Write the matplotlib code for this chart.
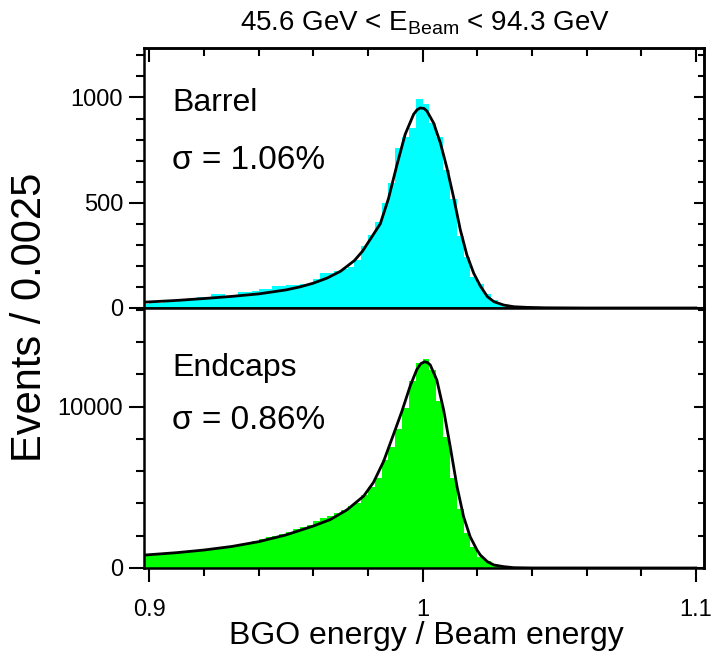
import numpy as np
import matplotlib.pyplot as plt
from matplotlib.ticker import MultipleLocator

plt.rcParams['font.family'] = ['Liberation Sans', 'DejaVu Sans']
plt.rcParams['mathtext.fontset'] = 'custom'
plt.rcParams['mathtext.rm'] = 'Liberation Sans'

# histogram bins: first edge and width (Events / 0.0025)
bin_start = 0.8975
bin_width = 0.0025

barrel_counts = [20, 22, 25, 27, 30, 33, 36, 45, 50, 52, 67,
                 67, 52, 55, 78, 78, 80, 89, 89, 105, 105,
                 108, 110, 112, 115, 138, 168, 165, 178, 185, 195,
                 228, 295, 348, 410, 500, 595, 762, 810, 856, 994,
                 967, 879, 813, 657, 518, 340, 243, 148, 114, 67,
                 38, 18, 9, 5, 3, 2, 2, 1, 1, 1,
                 1, 1, 1, 1, 0, 0, 0, 0, 0, 0,
                 0, 0, 0, 0, 0, 0, 0, 0, 0, 0]

endcap_counts = [860, 870, 890, 910, 940, 970, 1000, 1040, 1080, 1130, 1180,
                 1230, 1290, 1360, 1450, 1560, 1680, 1780, 1898, 1980, 2105,
                 2228, 2393, 2517, 2661, 2930, 3115, 3230, 3390, 3620, 3840,
                 4050, 4500, 5000, 5600, 6700, 7500, 8600, 9900, 11550, 12670,
                 12920, 12256, 10357, 8088, 5550, 3632, 2187, 1300, 700, 420,
                 230, 130, 75, 45, 30, 20, 12, 8, 5, 3,
                 2, 1, 1, 1, 1, 0, 0, 0, 0, 0,
                 0, 0, 0, 0, 0, 0, 0, 0, 0, 0]

# fitted curves
barrel_fit_x = [0.8985, 0.910, 0.920, 0.930, 0.940, 0.950, 0.955, 0.960, 0.965, 0.970,
                0.975, 0.978, 0.981, 0.9845, 0.9875, 0.9906, 0.9936, 0.9967, 0.998, 0.9991,
                1.0005, 1.0016, 1.004, 1.0065, 1.0089, 1.0114, 1.0138, 1.0162, 1.0187, 1.0211,
                1.0237, 1.0261, 1.0297, 1.0334, 1.0382, 1.045, 1.06, 1.1]
barrel_fit_y = [28, 36, 45, 55, 67, 86, 100, 118, 142, 175,
                225, 270, 330, 400, 520, 680, 825, 920, 942, 950,
                948, 935, 879, 784, 665, 522, 371, 252, 165, 105,
                54, 30, 14, 6, 3, 1, 0, 0]

endcap_fit_x = [0.8985, 0.910, 0.920, 0.930, 0.940, 0.950, 0.960, 0.9662, 0.9723, 0.9784,
                0.982, 0.9857, 0.9894, 0.9924, 0.9955, 0.9979, 0.9993, 1.0007, 1.0018, 1.0028,
                1.0052, 1.0077, 1.0101, 1.0126, 1.015, 1.0174, 1.0199, 1.0211, 1.0237, 1.0261,
                1.0297, 1.0334, 1.04, 1.1]
endcap_fit_y = [805, 950, 1114, 1330, 1630, 2050, 2600, 3000, 3600, 4450,
                5300, 6600, 8300, 9700, 11300, 12300, 12650, 12770, 12720, 12570,
                11640, 9780, 7510, 5030, 3175, 1937, 1114, 805, 392, 186,
                83, 20, 3, 0]

edges = bin_start + bin_width * np.arange(len(barrel_counts) + 1)

fig = plt.figure(figsize=(7.15, 6.68), dpi=100)
W, H = 715.0, 668.0
ax1 = fig.add_axes([144 / W, 1 - 308 / H, 560 / W, 260 / H])
ax2 = fig.add_axes([144 / W, 1 - 568 / H, 560 / W, 260 / H])

ax1.stairs(barrel_counts, edges, fill=True, color='#00ffff', lw=0)
ax1.plot(barrel_fit_x, barrel_fit_y, color='black', lw=2)
ax2.stairs(endcap_counts, edges, fill=True, color='#00ff00', lw=0)
ax2.plot(endcap_fit_x, endcap_fit_y, color='black', lw=2)


def style(ax, ymax, ymajor, yminor, labels_bottom):
    ax.set_xlim(0.898, 1.103)
    ax.set_ylim(0, ymax)
    for s in ax.spines.values():
        s.set_linewidth(1.8)
    ax.xaxis.set_major_locator(MultipleLocator(0.1))
    ax.xaxis.set_minor_locator(MultipleLocator(0.02))
    ax.yaxis.set_major_locator(MultipleLocator(ymajor))
    ax.yaxis.set_minor_locator(MultipleLocator(yminor))
    ax.tick_params(axis='x', which='both', direction='out', bottom=True, top=False,
                   labelbottom=labels_bottom, labelsize=17, pad=12, width=1.5)
    ax.tick_params(axis='x', which='major', length=10)
    ax.tick_params(axis='x', which='minor', length=5.5)
    ax.tick_params(axis='y', which='both', direction='out', left=True, right=False,
                   labelsize=17, pad=4, width=1.5)
    ax.tick_params(axis='y', which='major', length=11)
    ax.tick_params(axis='y', which='minor', length=6)
    ax.xaxis.set_major_formatter(plt.FuncFormatter(lambda v, p: '%g' % round(v, 3)))
    # inward ticks on the right
    sy = ax.secondary_yaxis('right')
    sy.yaxis.set_major_locator(MultipleLocator(ymajor))
    sy.yaxis.set_minor_locator(MultipleLocator(yminor))
    sy.tick_params(axis='y', which='both', direction='in', labelright=False, width=1.5)
    sy.tick_params(axis='y', which='major', length=7)
    sy.tick_params(axis='y', which='minor', length=4)
    sy.spines['right'].set_linewidth(1.8)


style(ax1, 1235, 500, 100, False)
style(ax2, 16100, 10000, 2000, True)

# inward ticks along the top of the upper panel
sx = ax1.secondary_xaxis('top')
sx.xaxis.set_major_locator(MultipleLocator(0.1))
sx.xaxis.set_minor_locator(MultipleLocator(0.02))
sx.tick_params(axis='x', which='both', direction='in', labeltop=False, width=1.5)
sx.tick_params(axis='x', which='major', length=10)
sx.tick_params(axis='x', which='minor', length=5.5)
sx.spines['top'].set_linewidth(1.8)

ax1.text(0.05, 0.79, 'Barrel', transform=ax1.transAxes, fontsize=23, va='center')
ax1.text(0.05, 0.567, 'σ = 1.06%', transform=ax1.transAxes, fontsize=24, va='center')
ax2.text(0.05, 0.77, 'Endcaps', transform=ax2.transAxes, fontsize=23, va='center')
ax2.text(0.05, 0.567, 'σ = 0.86%', transform=ax2.transAxes, fontsize=24, va='center')

fig.text(0.594, 0.965, r'45.6 GeV < E$_{\rm Beam}$ < 94.3 GeV', fontsize=20,
         ha='center', va='center')
fig.text(0.597, 0.048, 'BGO energy / Beam energy', fontsize=23, ha='center', va='center')
fig.text(0.042, 0.525, 'Events / 0.0025', fontsize=30, ha='center', va='center',
         rotation=90)

fig.savefig('out.png', dpi=100)
